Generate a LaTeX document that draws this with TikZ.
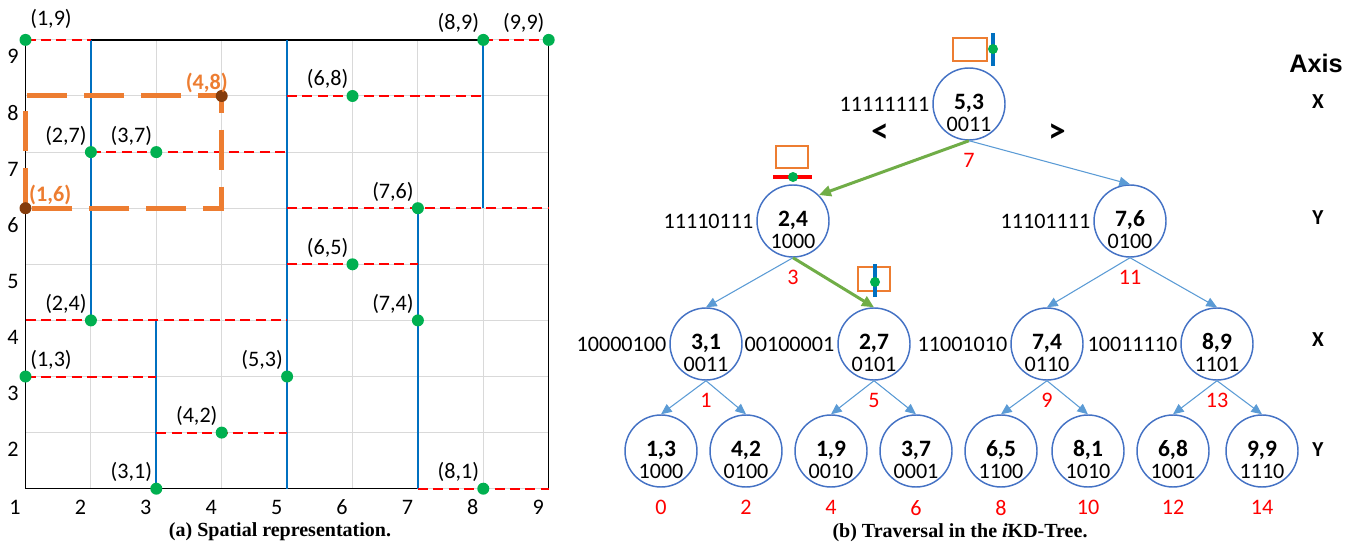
\documentclass[tikz,border=0pt]{standalone}
\usepackage{fontspec}
\setmainfont{Carlito}
\newfontfamily\capfont{Liberation Serif}
\newfontfamily\headfont{Liberation Sans}
\usepackage{tikz}
\usetikzlibrary{calc,arrows.meta}

\definecolor{splitblue}{HTML}{0070C0}
\definecolor{ptgreen}{HTML}{00B050}
\definecolor{qorange}{HTML}{ED7D31}
\definecolor{qbrown}{HTML}{843C0C}
\definecolor{kdblue}{HTML}{4472C4}
\definecolor{linkblue}{HTML}{5B9BD5}
\definecolor{pathgreen}{HTML}{70AD47}
\definecolor{gridgray}{HTML}{D9D9D9}

\newcommand{\kdkey}[1]{{\bfseries\fontsize{17.6}{16.5}\selectfont #1}}

\begin{document}
\begin{tikzpicture}[x=0.75pt,y=0.75pt,
    txt/.style={font=\fontsize{16.6}{17}\selectfont,inner sep=0pt},
    gridline/.style={draw=gridgray,line width=0.75pt},
    frame/.style={draw=black,line width=1.1pt},
    vsplit/.style={draw=splitblue,line width=1.5pt},
    hsplit/.style={draw=red,line width=1.5pt,dash pattern=on 7.5pt off 4pt},
    qwin/.style={draw=qorange,line width=3.75pt,dash pattern=on 30pt off 12.75pt},
    gdot/.style={circle,fill=ptgreen,minimum size=9pt,inner sep=0pt},
    bdot/.style={gdot,fill=qbrown},
    lblL/.style={txt,anchor=south east,xshift=-3pt,yshift=5pt},
    lblR/.style={txt,anchor=south west,xshift=3.4pt,yshift=5pt},
    qlbl/.style={txt,font=\fontsize{16.6}{17}\selectfont\bfseries,text=qorange},
    kd/.style={circle,draw=kdblue,line width=1.1pt,minimum size=54pt,inner sep=0pt},
    kdtext/.style={align=center,font=\fontsize{16.6}{16.5}\selectfont,inner sep=0pt,yshift=-6.5pt},
    bits/.style={txt,inner sep=2pt},
    idx/.style={txt,text=red},
    link/.style={draw=linkblue,line width=0.8pt,-{Triangle[length=8pt,width=7pt]}},
    trail/.style={draw=pathgreen,line width=2.25pt,-{Triangle[length=9pt,width=8pt]}},
    qbox/.style={draw=qorange,line width=1.9pt},
    vbar/.style={draw=splitblue,line width=3.4pt},
    hbar/.style={draw=red,line width=3.4pt},
    axl/.style={txt,font=\fontsize{16}{17}\selectfont\bfseries},
    side/.style={txt,font=\fontsize{26}{26}\selectfont\bfseries},
    caption/.style={font=\capfont\bfseries\fontsize{15}{17}\selectfont,inner sep=0pt}]
  \useasboundingbox (0,0) rectangle (1346,544);

  % (a) the plane cut by the splitting lines
  \begin{scope}[x=49.05pt,y=42.075pt,shift={(-29.925pt,-0.6pt)}]
    \draw[gridline,step=1] (1,1) grid (9,9);
    \draw[frame] (2,9) -- (8,9);
    \draw[frame] (9,1) -- (9,9);
    \draw[frame] (1,9) -- (1,1) -- (7,1);
    % splits on x
    \draw[vsplit] (5,1) -- (5,9);
    \draw[vsplit] (2,4) -- (2,9);
    \draw[vsplit] (3,1) -- (3,4);
    \draw[vsplit] (7,1) -- (7,6);
    \draw[vsplit] (8,6) -- (8,9);
    % splits on y
    \draw[hsplit] (1,4) -- (5,4);
    \draw[hsplit] (1,9) -- (2,9);
    \draw[hsplit] (2,7) -- (5,7);
    \draw[hsplit] (1,3) -- (3,3);
    \draw[hsplit] (3,2) -- (5,2);
    \draw[hsplit] (5,6) -- (9,6);
    \draw[hsplit] (5,5) -- (7,5);
    \draw[hsplit] (7,1) -- (9,1);
    \draw[hsplit] (5,8) -- (8,8);
    \draw[hsplit] (8,9) -- (9,9);
    % query window
    \draw[qwin] (1,6) -- (1,8) -- (4,8) -- (4,6) -- cycle;
    % points
    \node[gdot] (p19) at (1,9) {};
    \node[gdot] (p89) at (8,9) {};
    \node[gdot] (p99) at (9,9) {};
    \node[gdot] (p68) at (6,8) {};
    \node[gdot] (p27) at (2,7) {};
    \node[gdot] (p37) at (3,7) {};
    \node[gdot] (p76) at (7,6) {};
    \node[gdot] (p65) at (6,5) {};
    \node[gdot] (p24) at (2,4) {};
    \node[gdot] (p74) at (7,4) {};
    \node[gdot] (p13) at (1,3) {};
    \node[gdot] (p53) at (5,3) {};
    \node[gdot] (p42) at (4,2) {};
    \node[gdot] (p31) at (3,1) {};
    \node[gdot] (p81) at (8,1) {};
    \node[bdot] (q16) at (1,6) {};
    \node[bdot] (q48) at (4,8) {};
    % point labels
    \node[txt,anchor=south west,xshift=3.4pt,yshift=8.6pt] (l19) at (p19) {(1,9)};
    \node[lblL] (l89) at (p89) {(8,9)};
    \node[lblL] (l99) at (p99) {(9,9)};
    \node[lblL] (l68) at (p68) {(6,8)};
    \node[lblL] (l27) at (p27) {(2,7)};
    \node[lblL] (l37) at (p37) {(3,7)};
    \node[lblL] (l76) at (p76) {(7,6)};
    \node[lblL] (l65) at (p65) {(6,5)};
    \node[lblL] (l24) at (p24) {(2,4)};
    \node[lblL] (l74) at (p74) {(7,4)};
    \node[lblR] (l13) at (p13) {(1,3)};
    \node[lblL] (l53) at (p53) {(5,3)};
    \node[lblL] (l42) at (p42) {(4,2)};
    \node[lblL] (l31) at (p31) {(3,1)};
    \node[lblL] (l81) at (p81) {(8,1)};
    \node[qlbl,anchor=south west,xshift=2.6pt,yshift=2pt] (m16) at (q16) {(1,6)};
    \node[qlbl,anchor=south east,xshift=4.7pt,yshift=2pt] (m48) at (q48) {(4,8)};
    % ticks
    \path (0.84,0.674) node[txt] (tx1) {1} (1.84,0.674) node[txt] (tx2) {2}
          (2.84,0.674) node[txt] (tx3) {3} (3.84,0.674) node[txt] (tx4) {4}
          (4.84,0.674) node[txt] (tx5) {5} (5.84,0.674) node[txt] (tx6) {6}
          (6.84,0.674) node[txt] (tx7) {7} (7.84,0.674) node[txt] (tx8) {8}
          (8.84,0.674) node[txt] (tx9) {9};
    \path (0.81,1.7) node[txt] (ty2) {2} (0.81,2.7) node[txt] (ty3) {3}
          (0.81,3.7) node[txt] (ty4) {4} (0.81,4.7) node[txt] (ty5) {5}
          (0.81,5.7) node[txt] (ty6) {6} (0.81,6.7) node[txt] (ty7) {7}
          (0.81,7.7) node[txt] (ty8) {8} (0.81,8.7) node[txt] (ty9) {9};
  \end{scope}
  \node[caption] (capa) at (280,12) {(a) Spatial representation.};

  % (b) the tree
  \node[kd,label={[kdtext]center:{\kdkey{5,3}\\0011}}] (n53) at (969,440) {};
  \node[kd,label={[kdtext]center:{\kdkey{2,4}\\1000}}] (n24) at (793,323) {};
  \node[kd,label={[kdtext]center:{\kdkey{7,6}\\0100}}] (n76) at (1130,323) {};
  \node[kd,label={[kdtext]center:{\kdkey{3,1}\\0011}}] (n31) at (706,200) {};
  \node[kd,label={[kdtext]center:{\kdkey{2,7}\\0101}}] (n27) at (874,200) {};
  \node[kd,label={[kdtext]center:{\kdkey{7,4}\\0110}}] (n74) at (1047,200) {};
  \node[kd,label={[kdtext]center:{\kdkey{8,9}\\1101}}] (n89) at (1217,200) {};
  \node[kd,label={[kdtext]center:{\kdkey{1,3}\\1000}}] (n13) at (661,93) {};
  \node[kd,label={[kdtext]center:{\kdkey{4,2}\\0100}}] (n42) at (746,93) {};
  \node[kd,label={[kdtext]center:{\kdkey{1,9}\\0010}}] (n19) at (831,93) {};
  \node[kd,label={[kdtext]center:{\kdkey{3,7}\\0001}}] (n37) at (916,93) {};
  \node[kd,label={[kdtext]center:{\kdkey{6,5}\\1100}}] (n65) at (1001,93) {};
  \node[kd,label={[kdtext]center:{\kdkey{8,1}\\1010}}] (n81) at (1088,93) {};
  \node[kd,label={[kdtext]center:{\kdkey{6,8}\\1001}}] (n68) at (1173,93) {};
  \node[kd,label={[kdtext]center:{\kdkey{9,9}\\1110}}] (n99) at (1262,93) {};

  % bitmaps of the inner nodes
  \node[bits,anchor=east] (c53) at (n53.west) {11111111};
  \node[bits,anchor=east] (c24) at (n24.west) {11110111};
  \node[bits,anchor=east] (c76) at (n76.west) {11101111};
  \node[bits,anchor=east] (c31) at (n31.west) {10000100};
  \node[bits,anchor=east] (c27) at (n27.west) {00100001};
  \node[bits,anchor=east] (c74) at (n74.west) {11001010};
  \node[bits,anchor=east] (c89) at (n89.west) {10011110};

  % in-order index under each node
  \node[idx] (i53) at ($(n53.south)+(0,-20)$) {7};
  \node[idx] (i24) at ($(n24.south)+(0,-20)$) {3};
  \node[idx] (i76) at ($(n76.south)+(0,-20)$) {11};
  \node[idx] (i31) at ($(n31.south)+(0,-20)$) {1};
  \node[idx] (i27) at ($(n27.south)+(0,-20)$) {5};
  \node[idx] (i74) at ($(n74.south)+(0,-20)$) {9};
  \node[idx] (i89) at ($(n89.south)+(0,-20)$) {13};
  \node[idx] (i13) at ($(n13.south)+(0,-20)$) {0};
  \node[idx] (i42) at ($(n42.south)+(0,-20)$) {2};
  \node[idx] (i19) at ($(n19.south)+(0,-20)$) {4};
  \node[idx] (i37) at ($(n37.south)+(0,-20)$) {6};
  \node[idx] (i65) at ($(n65.south)+(0,-20)$) {8};
  \node[idx] (i81) at ($(n81.south)+(0,-20)$) {10};
  \node[idx] (i68) at ($(n68.south)+(0,-20)$) {12};
  \node[idx] (i99) at ($(n99.south)+(0,-20)$) {14};

  % children
  \draw[trail] (n53.south) -- (n24.45);
  \draw[link] (n53.south) -- (n76.north);
  \draw[link] (n24.south) -- (n31.north);
  \draw[trail] (n24.south) -- (n27.north);
  \draw[link] (n76.south) -- (n74.north);
  \draw[link] (n76.south) -- (n89.north);
  \draw[link] (n31.south) -- (n13.north);
  \draw[link] (n31.south) -- (n42.north);
  \draw[link] (n27.south) -- (n19.north);
  \draw[link] (n27.south) -- (n37.north);
  \draw[link] (n74.south) -- (n65.north);
  \draw[link] (n74.south) -- (n81.north);
  \draw[link] (n89.south) -- (n68.north);
  \draw[link] (n89.south) -- (n99.north);

  % query box against the split of the visited nodes
  \draw[qbox] ($(n53)+(-16,43)$) rectangle ($(n53)+(18,66)$);
  \draw[vbar] ($(n53)+(24,38)$) -- ($(n53)+(24,71)$);
  \fill[ptgreen] ($(n53)+(24,55)$) circle (3.75pt);
  \draw[qbox] ($(n24)+(-17,53)$) rectangle ($(n24)+(15,75)$);
  \draw[hbar] ($(n24)+(-20,44)$) -- ($(n24)+(19,44)$);
  \fill[ptgreen] ($(n24)+(0,44)$) circle (3.75pt);
  \draw[qbox] ($(n27)+(-16,53)$) rectangle ($(n27)+(16,77)$);
  \draw[vbar] ($(n27)+(1,47)$) -- ($(n27)+(1,80)$);
  \fill[ptgreen] ($(n27)+(1,62)$) circle (3.75pt);

  \node[side] (lt) at (880,411) {<};
  \node[side] (gt) at (1057,411) {>};

  % split axis of each level
  \node[txt,font=\headfont\bfseries\fontsize{19}{20}\selectfont] (axis) at (1316,481) {Axis};
  \node[axl] (ax0) at (1318,442) {X};
  \node[axl] (ax1) at (1318,326) {Y};
  \node[axl] (ax2) at (1318,204) {X};
  \node[axl] (ax3) at (1318,94) {Y};

  \node[caption] (capb) at (960,11) {(b) Traversal in the \textit{i}KD-Tree.};
\end{tikzpicture}
\end{document}
